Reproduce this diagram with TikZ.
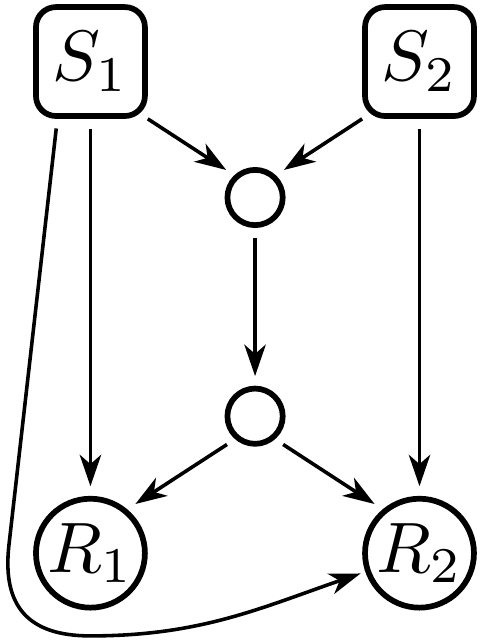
\documentclass[tikz,border=0pt]{standalone}
\usepackage{tikz}
\usetikzlibrary{arrows.meta}
\newcommand{\nodeline}{0.8pt}
\newcommand{\arrowgap}{1.35pt}
\tikzset{
  source/.style={draw, line width=\nodeline, rounded corners=2.8pt, minimum size=0.536cm, inner sep=0pt},
  sink/.style={draw, circle, line width=\nodeline, minimum size=0.536cm, inner sep=0pt},
  hub/.style={draw, circle, line width=\nodeline, minimum size=0.272cm, inner sep=0pt},
  link/.style={-{Stealth[length=4.4pt, width=3pt, inset=1.3pt]}, line width=0.5pt, shorten >=\arrowgap}
}

\begin{document}
\begin{tikzpicture}
\useasboundingbox (-0.445, 0.3026) rectangle (1.995, -2.856);
\node[source] (S1) at (0.0, 0.0) {$S_1$};
\node[source] (S2) at (1.619, 0.0) {$S_2$};
\node[hub] (m1) at (0.81, -0.669) {};
\node[hub] (m2) at (0.81, -1.745) {};
\node[sink] (R1) at (0.0, -2.419) {$R_1$};
\node[sink] (R2) at (1.619, -2.419) {$R_2$};
\coordinate (bend1) at (-0.401, -2.379);
\coordinate (bend2) at (0.0, -2.826);
%straight down
\draw[link, shorten <=\arrowgap] (S1.south) -- (R1.north);
\draw[link, shorten <=\arrowgap] (S2.south) -- (R2.north);
\draw[link, shorten <=\arrowgap] (m1.south) -- (m2.north);
%into the upper hub
\draw[link] (S1.south east) -- (m1.133);
\draw[link] (S2.south west) -- (m1.47);
%out of the lower hub
\draw[link, shorten <=\arrowgap] (m2.-131) -- (R1.50);
\draw[link, shorten <=\arrowgap] (m2.-49) -- (R2.130);
%long way round
\draw[link, shorten <=\arrowgap, shorten >=0.7pt] (S1.-120) -- (bend1) to[out=-96.5, in=180, looseness=1.3] (bend2) to[out=0, in=199] (R2);
\end{tikzpicture}
\end{document}
